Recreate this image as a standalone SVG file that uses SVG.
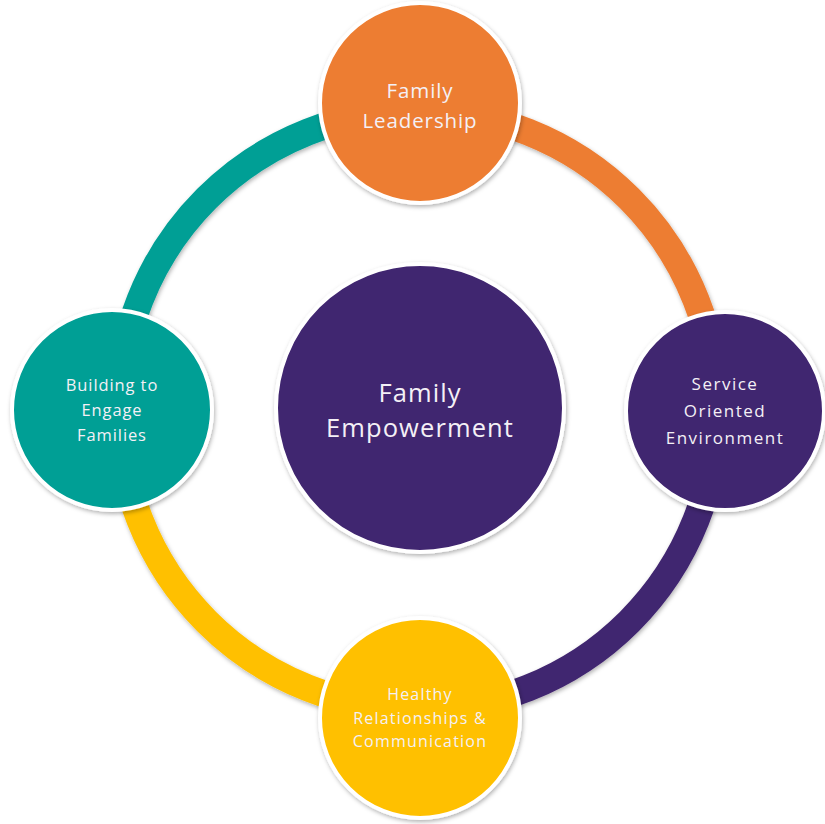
<svg xmlns="http://www.w3.org/2000/svg" width="825" height="824" viewBox="0 0 825 824">
<defs>
<filter id="sh" x="-20%" y="-20%" width="140%" height="140%">
<feDropShadow dx="1" dy="2" stdDeviation="2" flood-color="#000" flood-opacity="0.3"/>
</filter>
<style>
.arc{fill:none;stroke-width:27;filter:url(#sh)}
.node{stroke:#fff;stroke-width:4;filter:url(#sh)}
.lbl{font-family:"Open Sans","Liberation Sans",sans-serif;fill:#f4f0f6;text-anchor:middle}
</style>
</defs>
<rect width="825" height="824" fill="#fff"/>
<g id="connectors">
<path class="arc" stroke="#ED7D31" d="M418,111 A299,299 0 0 1 717,410"/>
<path class="arc" stroke="#40256F" d="M717,410 A299,299 0 0 1 418,709"/>
<path class="arc" stroke="#FFC000" d="M418,709 A299,299 0 0 1 119,410"/>
<path class="arc" stroke="#009F95" d="M119,410 A299,299 0 0 1 418,111"/>
</g>
<g id="node-top">
<circle class="node" cx="420" cy="103" r="100" fill="#ED7D31"/>
<text class="lbl" font-size="20.5" letter-spacing="0.9" x="420" y="98">Family</text>
<text class="lbl" font-size="20.5" letter-spacing="0.9" x="420" y="128">Leadership</text>
</g>
<g id="node-right">
<circle class="node" cx="725" cy="411" r="99" fill="#40256F"/>
<text class="lbl" font-size="17" letter-spacing="1.5" x="725" y="390">Service</text>
<text class="lbl" font-size="17" letter-spacing="1.5" x="725" y="417">Oriented</text>
<text class="lbl" font-size="17" letter-spacing="1.5" x="725" y="444">Environment</text>
</g>
<g id="node-bottom">
<circle class="node" cx="420" cy="718" r="100" fill="#FFC000"/>
<text class="lbl" font-size="16" letter-spacing="1.2" x="420" y="700">Healthy</text>
<text class="lbl" font-size="16" letter-spacing="1.2" x="420" y="724">Relationships &amp;</text>
<text class="lbl" font-size="16" letter-spacing="1.2" x="420" y="747">Communication</text>
</g>
<g id="node-left">
<circle class="node" cx="112" cy="410" r="100" fill="#009F95"/>
<text class="lbl" font-size="16.5" letter-spacing="0.9" x="112" y="391">Building to</text>
<text class="lbl" font-size="16.5" letter-spacing="0.9" x="112" y="416">Engage</text>
<text class="lbl" font-size="16.5" letter-spacing="0.9" x="112" y="441">Families</text>
</g>
<g id="node-center">
<circle class="node" cx="420" cy="408" r="144" fill="#40256F"/>
<text class="lbl" font-size="25.5" letter-spacing="1.1" x="420" y="402">Family</text>
<text class="lbl" font-size="25.5" letter-spacing="1.1" x="420" y="437">Empowerment</text>
</g>
</svg>
